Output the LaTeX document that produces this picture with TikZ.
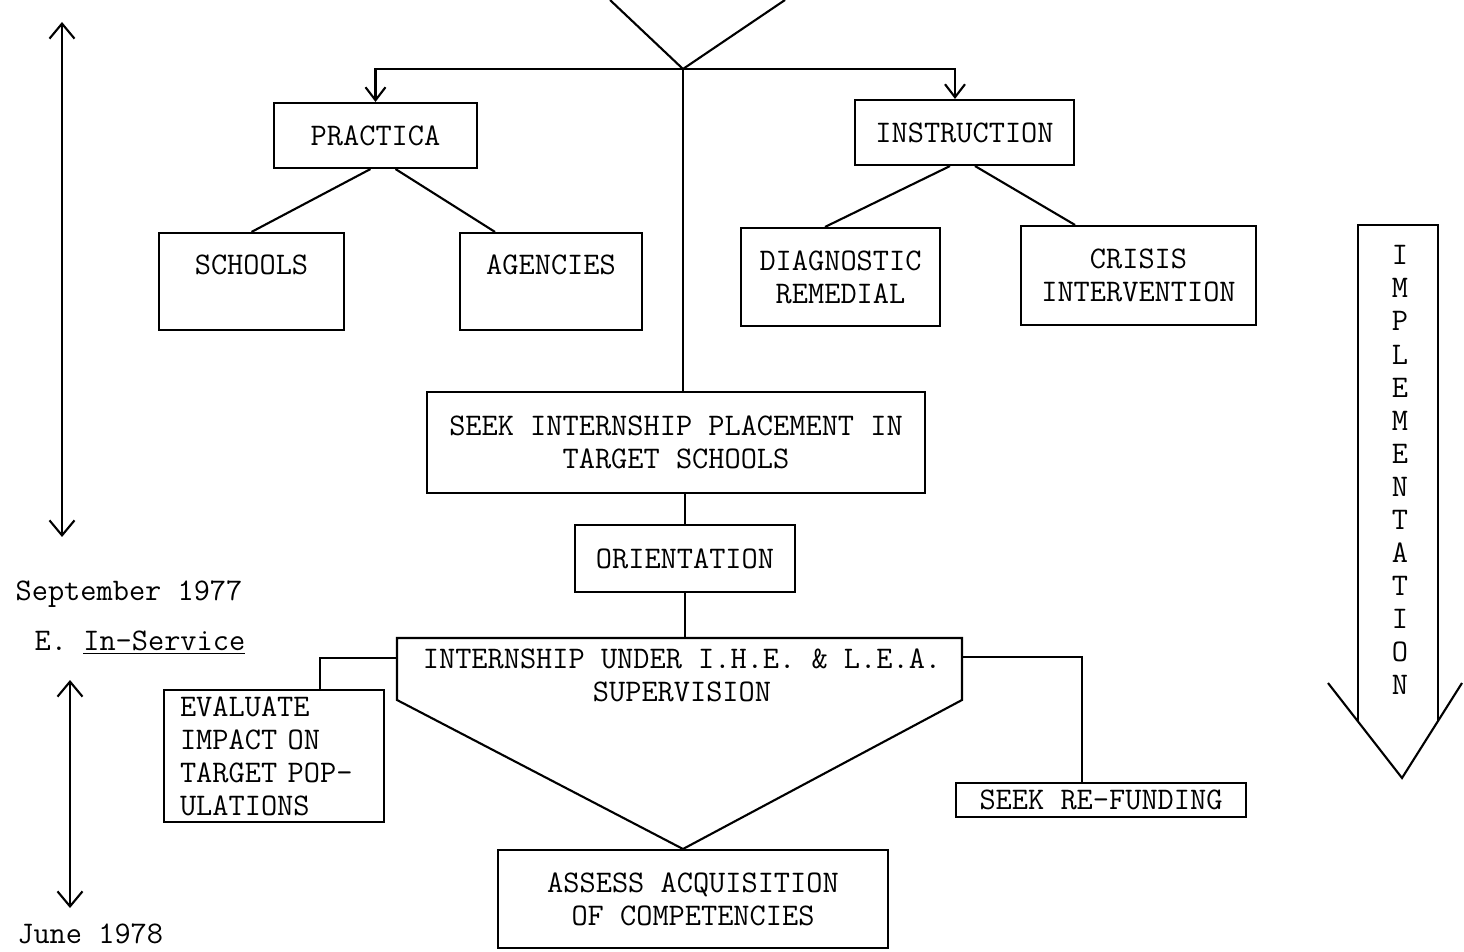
\documentclass[tikz,border=0pt]{standalone}
\usepackage{fontspec}
\usetikzlibrary{arrows.meta, positioning, calc}

\begin{document}
\begin{tikzpicture}[
    x=0.02cm, y=-0.02cm,
    every node/.style={font=\ttfamily\fontsize{17.9}{18.8}\selectfont},
    box/.style={
        rectangle, draw, line width=1.2pt,
        align=center, inner sep=0pt
    },
    lbl/.style={inner sep=0pt, align=left},
    link/.style={line width=1.2pt},
    flow/.style={line width=1.2pt, -{Straight Barb[length=2.6mm, width=4mm]}},
    span/.style={line width=1.2pt,
        {Straight Barb[length=3mm, width=5mm]}-{Straight Barb[length=3mm, width=5mm]}}
]
\useasboundingbox (0,0) rectangle (1464,952);

% === FORK ===

\coordinate (vl) at (610,0);
\coordinate (vr) at (785,0);
\coordinate (fork) at (683,69);
\draw[link] (vl) -- (fork) -- (vr);

% === PRACTICA / INSTRUCTION ===

\node[box, minimum width=4.06cm, minimum height=1.30cm] (prac) at (375.5,135.5) {PRACTICA};
\node[box, minimum width=4.38cm, minimum height=1.30cm] (inst) at (964.5,132.5) {INSTRUCTION};

\node[box, minimum width=3.70cm, minimum height=1.94cm] (sch) at (251.5,281.5) {SCHOOLS\\~};
\node[box, minimum width=3.64cm, minimum height=1.94cm] (agn) at (551,281.5) {AGENCIES\\~};
\node[box, minimum width=3.98cm, minimum height=1.96cm] (diag) at (840.5,277) {DIAGNOSTIC\\REMEDIAL};
\node[box, minimum width=4.70cm, minimum height=1.98cm] (cri) at (1138.5,275.5) {CRISIS\\INTERVENTION};

% === PLACEMENT ===

\node[box, minimum width=9.96cm, minimum height=2.02cm] (seek) at (676,442.5) {SEEK INTERNSHIP PLACEMENT IN\\TARGET SCHOOLS};
\node[box, minimum width=4.40cm, minimum height=1.34cm] (ori) at (685,558.5) {ORIENTATION};

% === INTERNSHIP ===

\coordinate (itl) at (397,638);
\coordinate (itr) at (962,638);
\coordinate (ibl) at (397,700);
\coordinate (ibr) at (962,700);
\coordinate (iapex) at (683,849);
\coordinate (ileft) at (397,658);
\coordinate (iright) at (962,657);
\draw[link] (itl) -- (itr) -- (ibr) -- (iapex) -- (ibl) -- cycle;
\node[lbl, align=center] (intern) at (682,675) {INTERNSHIP UNDER I.H.E. \& L.E.A.\\SUPERVISION};

\node[box, minimum width=4.40cm, minimum height=2.64cm, align=left, text width=3.76cm] (eval) at (274,756) {%
EVALUATE\\
IMPACT ON\\
TARGET POP-\\
ULATIONS};
\node[box, minimum width=5.80cm, minimum height=0.68cm] (refund) at (1101,800) {SEEK RE-FUNDING};
\node[box, minimum width=7.80cm, minimum height=1.96cm] (assess) at (693,899) {ASSESS ACQUISITION\\OF COMPETENCIES};

% === TIMELINE ===

\coordinate (t1a) at (62,22);
\coordinate (t1b) at (62,537);
\draw[span] (t1a) -- (t1b);
\node[lbl] (sept) at (129,594) {September 1977};
\node[lbl] (insv) at (140,643) {E. \underline{In-Service}};
\coordinate (t2a) at (70,680);
\coordinate (t2b) at (70,908);
\draw[span] (t2a) -- (t2b);
\node[lbl, anchor=base west] (june) at (17,943) {June 1978};

% === IMPLEMENTATION ===

\coordinate (sl) at (1358,722);
\coordinate (sr) at (1438,722);
\coordinate (hl) at (1328,683);
\coordinate (hr) at (1462,683);
\coordinate (hapex) at (1402,778);
\draw[link] (sl) -- (sl |- 0,225) -- (sr |- 0,225) -- (sr);
\draw[link] (hl) -- (hapex) -- (hr);
\node[lbl, align=center] (impl) at (1400,470) {I\\M\\P\\L\\E\\M\\E\\N\\T\\A\\T\\I\\O\\N};

% === CONNECTORS ===

\draw[flow] (fork) -| (prac.north);
\draw[flow] (fork) -| ([xshift=-0.19cm]inst.north);
\draw[link] (fork) -- (fork |- seek.north);

\draw[link] ([xshift=-0.1cm]prac.south) -- (sch.north);
\draw[link] ([xshift=0.4cm]prac.south) -- ([xshift=-1.12cm]agn.north);
\draw[link] ([xshift=-0.29cm]inst.south) -- ([xshift=-0.31cm]diag.north);
\draw[link] ([xshift=0.21cm]inst.south) -- ([xshift=-1.27cm]cri.north);

\draw[link] (ori.north |- seek.south) -- (ori.north);
\draw[link] (ori.south) -- (ori.south |- itl);

\draw[link] (ileft) -| ([xshift=0.92cm]eval.north);
\draw[link] (iright) -| ([xshift=-0.38cm]refund.north);

\end{tikzpicture}
\end{document}
